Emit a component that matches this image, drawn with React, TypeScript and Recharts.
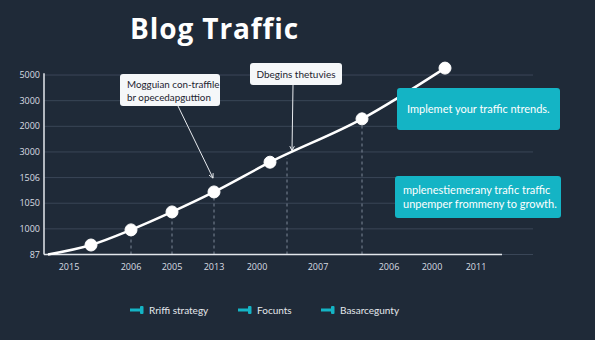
import React from 'react';
import { LineChart, Line, XAxis, YAxis, ReferenceLine } from 'recharts';

const xTickPositions = [2.5, 8.7, 12.8, 17.0, 21.3, 27.4, 34.5, 38.8, 43.2];
const xTickLabels = ['2015', '2006', '2005', '2013', '2000', '2007', '2006', '2000', '2011'];
const yTickPositions = [0, 1, 2, 3, 4, 5, 6, 7];
const yTickLabels = ['87', '1000', '1050', '1506', '3000', '2000', '3000', '5000'];

const pointX = [0.4, 4.7, 8.7, 12.8, 17.0, 22.6, 31.8, 40.1];
const pointY = [0.0, 0.37, 0.96, 1.66, 2.44, 3.6, 5.29, 7.27];

const dropX = [8.7, 12.8, 17.0, 24.3, 31.8];
const dropTop = [0.96, 1.66, 2.44, 3.76, 5.29];

const legendNames = ['Rriffi strategy', 'Focunts', 'Basarcegunty'];
const calloutWhite = ['Mogguian con-traffile\nbr opecedapguttion', 'Dbegins thetuvies'];
const calloutTeal = ['Implemet your traffic ntrends.', 'mplenestiemerany trafic traffic\nunpemper frommeny to growth.'];

const data = pointX.map((x, i) => ({ x, y: pointY[i] }));

const BG = '#1f2a38';
const TEAL = '#14b4c5';
const FONT = '"Open Sans", sans-serif';
const BODY = 'Lato, "Open Sans", sans-serif';

const Arrow = (props: any) => {
  const { x1, y1, x2, y2 } = props;
  const ang = Math.atan2(y2 - y1, x2 - x1);
  const L = 5;
  const a1 = ang + Math.PI * 0.85;
  const a2 = ang - Math.PI * 0.85;
  return (
    <g>
      <line x1={x1} y1={y1} x2={x2} y2={y2} stroke="#e8ebef" strokeWidth={1} />
      <polyline
        points={`${x2 + L * Math.cos(a1)},${y2 + L * Math.sin(a1)} ${x2},${y2} ${x2 + L * Math.cos(a2)},${y2 + L * Math.sin(a2)}`}
        fill="none"
        stroke="#e8ebef"
        strokeWidth={1}
      />
    </g>
  );
};

const renderDot = (props: any) => {
  const { cx, cy, index } = props;
  if (index === 0) return <g key={`d${index}`} />;
  return <circle key={`d${index}`} cx={cx} cy={cy} r={6} fill="#ffffff" stroke="#ffffff" strokeWidth={1} />;
};

export default function App() {
  return (
    <div style={{ position: 'absolute', left: 0, top: 0, width: 595, height: 340, background: BG, overflow: 'hidden', fontFamily: BODY }}>
      <div style={{ position: 'absolute', left: 130, top: 9, fontSize: 28, fontWeight: 700, color: '#ffffff', fontFamily: FONT, letterSpacing: 0.9 }}>
        Blog Traffic
      </div>
      <LineChart width={595} height={340} data={data} margin={{ top: 64, right: 62, bottom: 55.5, left: 4 }}>
        <XAxis
          type="number"
          dataKey="x"
          domain={[0, 48.9]}
          ticks={xTickPositions}
          tickFormatter={(v: number) => xTickLabels[xTickPositions.indexOf(v)]}
          axisLine={false}
          tickLine={false}
          tickSize={0}
          tickMargin={9}
          height={30}
          interval={0}
          tick={{ fill: '#d9dde3', fontSize: 9, fontFamily: FONT }}
        />
        <YAxis
          type="number"
          domain={[0, 7.43]}
          ticks={yTickPositions}
          tickFormatter={(v: number) => yTickLabels[yTickPositions.indexOf(v)]}
          axisLine={false}
          tickLine={false}
          tickSize={0}
          tickMargin={4}
          width={40}
          interval={0}
          tick={{ fill: '#d9dde3', fontSize: 9, fontFamily: FONT }}
        />
        {yTickPositions.map((y) => (
          <ReferenceLine key={`g${y}`} y={y} stroke="#3a4657" strokeWidth={1} />
        ))}
        {dropX.map((x, i) => (
          <ReferenceLine
            key={`drop${i}`}
            segment={[{ x, y: 0 }, { x, y: dropTop[i] }]}
            stroke="#7d8796"
            strokeDasharray="3 3"
            strokeWidth={1}
          />
        ))}
        <ReferenceLine segment={[{ x: 0, y: 0 }, { x: 45.8, y: 0 }]} stroke="#e3e7ec" strokeWidth={1.5} />
        <ReferenceLine segment={[{ x: 0, y: 0 }, { x: 0, y: 7.07 }]} stroke="#e3e7ec" strokeWidth={1.5} />
        <ReferenceLine segment={[{ x: 13.4, y: 5.79 }, { x: 16.9, y: 2.98 }]} shape={Arrow} />
        <ReferenceLine segment={[{ x: 24.9, y: 6.61 }, { x: 24.8, y: 4.05 }]} shape={Arrow} />
        <Line
          type="monotone"
          dataKey="y"
          stroke="#ffffff"
          strokeWidth={2.5}
          dot={renderDot}
          activeDot={false}
          isAnimationActive={false}
        />
      </LineChart>

      <div style={{ position: 'absolute', left: 120, top: 74, width: 100, height: 32, background: '#f5f7f9', borderRadius: 3, color: '#1d2430', fontSize: 9.8, lineHeight: '12.5px', padding: '4px 0 0 7px', boxSizing: 'border-box', whiteSpace: 'pre' }}>
        {calloutWhite[0]}
      </div>
      <div style={{ position: 'absolute', left: 250, top: 63, width: 92, height: 22, background: '#f5f7f9', borderRadius: 3, color: '#1d2430', fontSize: 10, lineHeight: '22px', textAlign: 'center', boxSizing: 'border-box', whiteSpace: 'pre' }}>
        {calloutWhite[1]}
      </div>
      <div style={{ position: 'absolute', left: 397, top: 88, width: 163, height: 42, background: TEAL, borderRadius: 3, color: '#ffffff', fontSize: 11, lineHeight: '42px', paddingLeft: 10, boxSizing: 'border-box', whiteSpace: 'pre' }}>
        {calloutTeal[0]}
      </div>
      <div style={{ position: 'absolute', left: 395, top: 176, width: 166, height: 42, background: TEAL, borderRadius: 3, color: '#ffffff', fontSize: 11, lineHeight: '14px', padding: '7px 0 0 8px', boxSizing: 'border-box', whiteSpace: 'pre' }}>
        {calloutTeal[1]}
      </div>

      {legendNames.map((name, i) => {
        const lefts = [130, 238, 321];
        return (
          <div key={name} style={{ position: 'absolute', left: lefts[i], top: 303, height: 14, display: 'flex', alignItems: 'center' }}>
            <svg width={14} height={10} style={{ display: 'block' }}>
              <line x1={0} y1={5} x2={10} y2={5} stroke={TEAL} strokeWidth={3} />
              <rect x={10} y={1} width={3.5} height={8} rx={1} fill={TEAL} />
            </svg>
            <span style={{ marginLeft: 5, color: '#e4e8ec', fontSize: 10, fontFamily: BODY }}>{name}</span>
          </div>
        );
      })}
    </div>
  );
}
